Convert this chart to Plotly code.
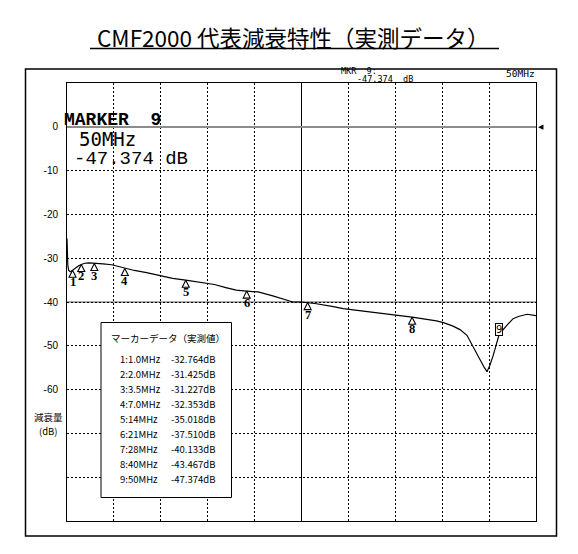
import plotly.graph_objects as go

# ---------------- data ----------------
title_text = "CMF2000 代表減衰特性（実測データ）"
y_axis_title = ["減衰量", "(dB)"]
table_title = "マーカーデータ（実測値）"

trace_freq_mhz = [0.36, 0.40, 0.45, 0.55, 0.75, 1.0, 1.36, 1.7, 2.0, 2.4, 2.9, 3.5,
                  4.5, 5.5, 6.3, 7.0, 8.1, 9.5, 11.0, 12.5, 14.0, 15.6, 17.3, 18.6,
                  19.8, 21.0, 22.3, 24.0, 25.0, 25.8, 26.3, 27.3, 28.0, 29.0, 30.8,
                  32.1, 34.4, 37.8, 40.0, 42.8, 43.6, 44.7, 45.5, 46.3, 47.0, 47.8,
                  48.3, 48.6, 48.9, 49.3, 49.7, 50.0, 50.9, 51.6, 52.2, 53.2, 54.23]
trace_level_db = [-25.5, -28.5, -31.5, -32.8, -33.1, -32.76, -32.2, -31.7, -31.43, -31.15,
                  -31.05, -31.2, -31.3, -31.5, -31.9, -32.35, -32.8, -33.3, -34.0, -34.6,
                  -35.0, -35.5, -36.0, -36.7, -37.3, -37.5, -37.7, -38.6, -39.2, -39.8,
                  -40.0, -40.0, -40.13, -40.4, -41.0, -41.5, -42.1, -42.9, -43.47, -44.3,
                  -44.7, -45.5, -46.3, -47.6, -50.2, -53.3, -55.0, -55.9, -54.6, -52.3,
                  -49.4, -47.37, -45.3, -43.8, -43.3, -42.8, -43.1]

marker_num = [1, 2, 3, 4, 5, 6, 7, 8, 9]
marker_freq_mhz = [1.0, 2.0, 3.5, 7.0, 14.0, 21.0, 28.0, 40.0, 50.0]
marker_level_db = [-32.764, -31.425, -31.227, -32.353, -35.018, -37.510, -40.133, -43.467, -47.374]
marker_freq_label = ["1.0MHz", "2.0MHz", "3.5MHz", "7.0MHz", "14MHz", "21MHz", "28MHz", "40MHz", "50MHz"]
marker_level_label = ["-32.764dB", "-31.425dB", "-31.227dB", "-32.353dB", "-35.018dB",
                      "-37.510dB", "-40.133dB", "-43.467dB", "-47.374dB"]

y_tick_vals = [10, 0, -10, -20, -30, -40, -50, -60, -70, -80, -90]
y_tick_text = ["", "0", "-10", "-20", "-30", "-40", "-50", "-60", "", "", ""]

x_start_mhz = 0.36
x_stop_mhz = 54.23
ref_level_db = -40

active_marker = "MARKER  9"
active_freq = "50MHz"
active_level = "-47.374 dB"
mkr_head = "MKR  9:"
mkr_level = "-47.374  dB"
span_label = "50MHz"

# ---------------- geometry ----------------
OFF = 8                 # default body margin of the html page
W, H = 578 - OFF, 554 - OFF
PLOT_L, PLOT_R, PLOT_T, PLOT_B = 67, 536, 83, 521   # page pixels
L = PLOT_L - OFF
T = PLOT_T - OFF
R = W - (PLOT_R - OFF)
B = H - (PLOT_B - OFF)
PW = W - L - R
PH = H - T - B


def px(x):
    return (x - OFF - L) / PW


def py(y):
    return (H - B - (y - OFF)) / PH


x_div = (x_stop_mhz - x_start_mhz) / 10

fig = go.Figure()

fig.add_trace(go.Scatter(x=trace_freq_mhz, y=trace_level_db, mode="lines",
                         line=dict(color="black", width=1.2), hoverinfo="skip",
                         showlegend=False))

fig.add_trace(go.Scatter(x=marker_freq_mhz[:-1], y=marker_level_db[:-1], mode="markers",
                         marker=dict(symbol="arrow-up-open", size=7, color="black",
                                     line=dict(color="black", width=1.1)),
                         hoverinfo="skip", showlegend=False, cliponaxis=False))

ann = []
for n, f, v in zip(marker_num[:-1], marker_freq_mhz[:-1], marker_level_db[:-1]):
    ann.append(dict(x=f, y=v, xref="x", yref="y", text=f"<b>{n}</b>", showarrow=False,
                    yanchor="middle", xanchor="center", yshift=-12,
                    font=dict(family="Liberation Serif", size=12.5, color="black")))
ann.append(dict(x=marker_freq_mhz[-1], y=marker_level_db[-1], xref="x", yref="y",
                text=str(marker_num[-1]), showarrow=False, yanchor="middle", xanchor="center",
                yshift=5, bordercolor="black", borderwidth=1, borderpad=0, bgcolor="white",
                font=dict(family="DejaVu Sans", size=10, color="black")))

# title
ann.append(dict(x=px(293), y=py(37), xref="paper", yref="paper", text=title_text,
                showarrow=False, xanchor="center", yanchor="middle",
                font=dict(family="Noto Sans CJK JP", size=22.5, color="black")))

# marker readouts
ann.append(dict(x=px(62), y=py(120), xref="paper", yref="paper", text=f"<b>{active_marker}</b>",
                showarrow=False, xanchor="left", yanchor="middle",
                font=dict(family="Liberation Mono", size=18, color="black")))
ann.append(dict(x=px(77), y=py(139), xref="paper", yref="paper", text=active_freq,
                showarrow=False, xanchor="left", yanchor="middle",
                font=dict(family="DejaVu Sans Mono", size=19, color="black")))
ann.append(dict(x=px(72), y=py(159), xref="paper", yref="paper", text=active_level,
                showarrow=False, xanchor="left", yanchor="middle",
                font=dict(family="Liberation Mono", size=19, color="black")))
ann.append(dict(x=px(339), y=py(71.5), xref="paper", yref="paper", text=mkr_head,
                showarrow=False, xanchor="left", yanchor="middle",
                font=dict(family="DejaVu Sans Mono", size=8.5, color="black")))
ann.append(dict(x=px(355), y=py(79.5), xref="paper", yref="paper", text=mkr_level,
                showarrow=False, xanchor="left", yanchor="middle",
                font=dict(family="DejaVu Sans Mono", size=8.5, color="black")))
ann.append(dict(x=px(537), y=py(73), xref="paper", yref="paper", text=span_label,
                showarrow=False, xanchor="right", yanchor="middle",
                font=dict(family="DejaVu Sans Mono", size=9.5, color="black")))
ann.append(dict(x=px(536), y=0, xref="paper", yref="y", text="◀",
                showarrow=False, xanchor="left", yanchor="middle",
                font=dict(family="DejaVu Sans", size=7, color="black")))

# y axis title
ann.append(dict(x=px(48), y=py(417), xref="paper", yref="paper", text=y_axis_title[0],
                showarrow=False, xanchor="center", yanchor="middle",
                font=dict(family="Noto Sans CJK JP", size=9.5, color="black")))
ann.append(dict(x=px(48), y=py(431), xref="paper", yref="paper", text=y_axis_title[1],
                showarrow=False, xanchor="center", yanchor="middle",
                font=dict(family="Noto Sans CJK JP", size=9.5, color="black")))

# table
ann.append(dict(x=px(168), y=py(338), xref="paper", yref="paper", text=table_title,
                showarrow=False, xanchor="center", yanchor="middle",
                font=dict(family="Noto Sans CJK JP", size=9.5, color="black")))
for i, (n, fl, lv) in enumerate(zip(marker_num, marker_freq_label, marker_level_label)):
    yy = py(358.5 + 15 * i)
    ann.append(dict(x=px(118), y=yy, xref="paper", yref="paper", text=f"{n}:{fl}",
                    showarrow=False, xanchor="left", yanchor="middle",
                    font=dict(family="Noto Sans CJK JP", size=9.5, color="black")))
    ann.append(dict(x=px(169), y=yy, xref="paper", yref="paper", text=lv,
                    showarrow=False, xanchor="left", yanchor="middle",
                    font=dict(family="Noto Sans CJK JP", size=9.5, color="black")))

shapes = [
    # reference level line
    dict(type="line", xref="paper", yref="y", x0=0, x1=1, y0=ref_level_db, y1=ref_level_db,
         line=dict(color="#8c8c8c", width=1.5), layer="between"),
    # center vertical line
    dict(type="line", xref="x", yref="paper", x0=x_start_mhz + 5 * x_div,
         x1=x_start_mhz + 5 * x_div, y0=0, y1=1,
         line=dict(color="black", width=1), layer="between"),
    # outer frame
    dict(type="rect", xref="paper", yref="paper", x0=px(25.5), x1=px(556.5), y0=py(536),
         y1=py(69), line=dict(color="black", width=1.5), layer="above"),
    # title underline
    dict(type="line", xref="paper", yref="paper", x0=px(90), x1=px(499), y0=py(48.5),
         y1=py(48.5), line=dict(color="black", width=1.3), layer="above"),
    # table box
    dict(type="rect", xref="paper", yref="paper", x0=px(101), x1=px(231.5), y0=py(497.5),
         y1=py(322.5), line=dict(color="black", width=1), fillcolor="white", layer="above"),
]

fig.update_layout(
    width=W, height=H,
    margin=dict(l=L, r=R, t=T, b=B),
    paper_bgcolor="white", plot_bgcolor="white",
    showlegend=False,
    annotations=ann, shapes=shapes,
    xaxis=dict(range=[x_start_mhz, x_stop_mhz], tick0=x_start_mhz, dtick=x_div,
               showticklabels=False, ticks="", showgrid=True, gridcolor="black",
               gridwidth=1, griddash="2px,2px", zeroline=False, showline=True,
               linecolor="black", linewidth=1, mirror=True, fixedrange=True),
    yaxis=dict(range=[-90, 10], tickmode="array", tickvals=y_tick_vals, ticktext=y_tick_text,
               showgrid=True, gridcolor="black", gridwidth=1, griddash="2px,2px",
               zeroline=True, zerolinecolor="#8c8c8c", zerolinewidth=1.5,
               showline=True, linecolor="black", linewidth=1, mirror=True,
               ticks="outside", ticklen=6, tickcolor="rgba(0,0,0,0)",
               tickfont=dict(family="Liberation Sans", size=10, color="black"),
               fixedrange=True),
)

fig.write_html("out.html")
